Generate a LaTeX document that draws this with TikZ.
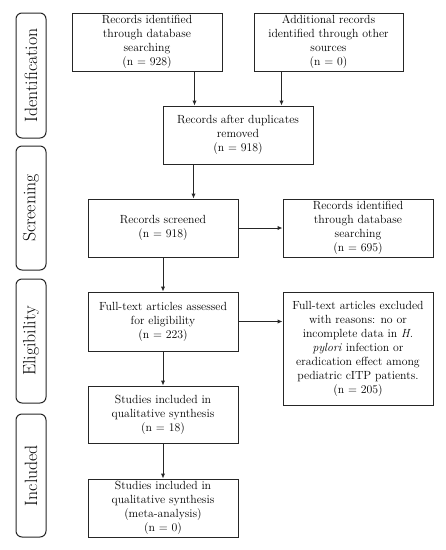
\documentclass[tikz,border=0pt]{standalone}
\usetikzlibrary{calc,arrows.meta}
\begin{document}
\begin{tikzpicture}[x=1pt,y=-1pt,
  box/.style={draw=black!85,line width=1pt,minimum width=150pt,align=center,inner sep=2pt,font=\fontsize{11.8}{14}\selectfont},
  side/.style={draw=black!85,line width=1pt,rounded corners=6pt,minimum width=30pt,inner sep=0pt},
  sidetext/.style={rotate=90,font=\fontsize{17.8}{21}\selectfont},
  arr/.style={line width=1pt,draw=black!85,-{Latex[length=5pt,width=4.5pt]}}]
\useasboundingbox (0,0) rectangle (446,550);
% side labels
\node[side,minimum height=125pt] (sI) at (31,75.5) {};
\node[sidetext] (tI) at (sI.center) {Identification};
\node[side,minimum height=124pt] (sS) at (31,208) {};
\node[sidetext] (tS) at (sS.center) {Screening};
\node[side,minimum height=124pt] (sE) at (31,341) {};
\node[sidetext] (tE) at (sE.center) {Eligibility};
\node[side,minimum height=123pt] (sN) at (31,475.5) {};
\node[sidetext] (tN) at (sN.center) {Included};
% boxes
\node[box,minimum height=58pt] (b1) at (147,42) {Records identified\\through database\\searching\\(n = 928)};
\node[box,minimum height=58pt,minimum width=149pt] (b2) at (328.5,42) {Additional records\\identified through other\\sources\\(n = 0)};
\node[box,minimum height=58pt] (b3) at (238,135) {Records after duplicates\\removed\\(n = 918)};
\node[box,minimum height=58pt] (b4) at (163,228) {Records screened\\(n = 918)};
\node[box,minimum height=58pt] (b5) at (358,228) {Records identified\\through database\\searching\\(n = 695)};
\node[box,minimum height=59pt] (b6) at (163,321.5) {Full-text articles assessed\\for eligibility\\(n = 223)};
\node[box,minimum height=113pt] (b7) at (358,348.5) {Full-text articles excluded\\with reasons: no or\\incomplete data in \emph{H.}\\\emph{pylori} infection or\\eradication effect among\\pediatric cITP patients.\\(n = 205)};
\node[box,minimum height=57pt] (b8) at (163,414.5) {Studies included in\\qualitative synthesis\\(n = 18)};
\node[box,minimum height=58pt] (b9) at (163,508) {Studies included in\\qualitative synthesis\\(meta-analysis)\\(n = 0)};
% connectors
\coordinate (t1) at ($(b1.south east)+(-28,0)$);
\draw[arr] (t1) -- (t1 |- b3.north);
\coordinate (t2) at ($(b2.south west)+(28,0)$);
\draw[arr] (t2) -- (t2 |- b3.north);
\coordinate (t3) at ($(b3.south west)+(31,0)$);
\draw[arr] (t3) -- (t3 |- b4.north);
\draw[arr] (b4.east) -- (b5.west);
\draw[arr] (b4.south) -- (b6.north);
\coordinate (t6) at ($(b6.north east)+(0,30)$);
\draw[arr] (t6) -- (t6 -| b7.west);
\draw[arr] (b6.south) -- (b8.north);
\draw[arr] (b8.south) -- (b9.north);
\end{tikzpicture}
\end{document}
